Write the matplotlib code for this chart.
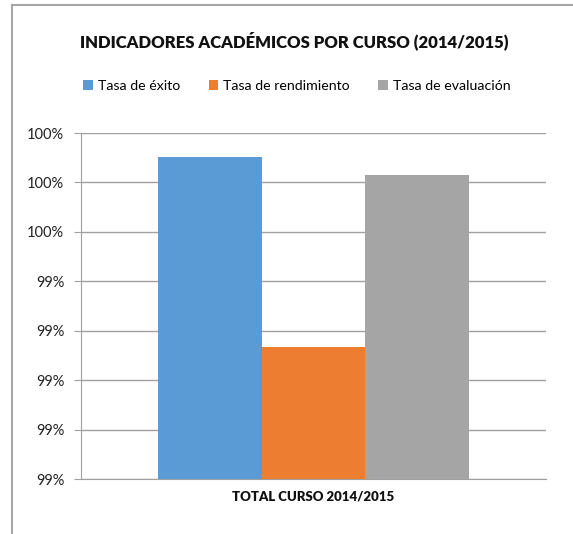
"""
indicadores academicos por curso 2014/2015 - bar chart
"""

import matplotlib.pyplot as plt
from matplotlib.lines import Line2D
from matplotlib.patches import Patch
from matplotlib.ticker import FuncFormatter

category = ['TOTAL CURSO 2014/2015']
series_names = ['Tasa de éxito', 'Tasa de rendimiento', 'Tasa de evaluación']
series_values = [0.99651, 0.99267, 0.99615]
colors = ['#5b9bd5', '#ed7d31', '#a5a5a5']
y_ticks = [0.990, 0.991, 0.992, 0.993, 0.994, 0.995, 0.996, 0.997]

plt.rcParams['font.family'] = ['Lato', 'DejaVu Sans']

fig = plt.figure(figsize=(5.73, 5.34), dpi=100)
ax = fig.add_axes([81 / 573, 1 - 479 / 534, 465 / 573, 346 / 534])

width = 0.67 / 3
for i, (name, val, col) in enumerate(zip(series_names, series_values, colors)):
    ax.bar(0 + (i - 1) * width, val, width=width, color=col, label=name,
           zorder=3)

ax.set_xlim(-0.5, 0.5)
ax.set_ylim(y_ticks[0], y_ticks[-1])
ax.set_yticks(y_ticks)
ax.yaxis.set_major_formatter(FuncFormatter(lambda v, p: '{:.0f}%'.format(v * 100)))
ax.set_xticks([0])
ax.set_xticklabels(category, fontweight='heavy', fontsize=9.5, color='#111111')
ax.tick_params(axis='y', length=5, color='#a0a0a0', labelsize=10.5,
               labelcolor='#222222', pad=7)
ax.tick_params(axis='x', length=0, pad=8)
ax.grid(axis='y', color='#a0a0a0', linewidth=1, zorder=0)
for side in ['top', 'right']:
    ax.spines[side].set_visible(False)
ax.spines['left'].set_color('#a0a0a0')
ax.spines['bottom'].set_color('#a0a0a0')

fig.text(294 / 573, 1 - 41 / 534, 'INDICADORES ACADÉMICOS POR CURSO (2014/2015)',
         ha='center', va='center', fontsize=12, fontweight='heavy',
         color='#111111')

handles = [Patch(facecolor=c, edgecolor='none') for c in colors]
fig.legend(handles, series_names, loc='center', ncol=3,
           bbox_to_anchor=(297 / 573, 1 - 86 / 534), frameon=False,
           fontsize=10.2, handlelength=0.7, handleheight=0.7,
           handletextpad=0.35, columnspacing=2.0)

# outer chart border (only top and left visible)
fig.add_artist(Line2D([12 / 573, 1], [1 - 5 / 534, 1 - 5 / 534],
                      transform=fig.transFigure, color='#a6a6a6', linewidth=1.5))
fig.add_artist(Line2D([12 / 573, 12 / 573], [1 - 5 / 534, 0],
                      transform=fig.transFigure, color='#a6a6a6', linewidth=1.5))

fig.savefig('out.png', dpi=100)
